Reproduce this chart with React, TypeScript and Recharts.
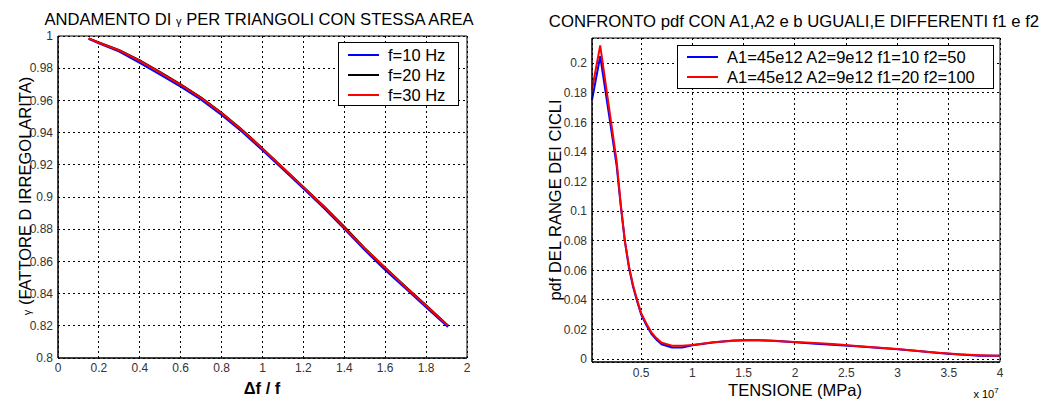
import { LineChart, Line, XAxis, YAxis, CartesianGrid, ReferenceArea, Legend } from "recharts"

const FONT = "'Liberation Sans', Arial, Helvetica, sans-serif"

// left chart: gamma vs delta f / f
const RATIO = [0.15, 0.2, 0.3, 0.4, 0.5, 0.6, 0.7, 0.8, 0.9, 1.0, 1.1, 1.2, 1.3, 1.4, 1.5, 1.6, 1.7, 1.8, 1.907]
const GAMMA_10 = [0.9983, 0.9955, 0.9903, 0.9833, 0.976, 0.9685, 0.9604, 0.951, 0.9405, 0.929, 0.9172, 0.9052, 0.8932, 0.8803, 0.867, 0.8547, 0.8432, 0.8315, 0.8192]
const GAMMA_20 = [0.9985, 0.996, 0.9912, 0.9848, 0.9775, 0.97, 0.9618, 0.9523, 0.9418, 0.9302, 0.9182, 0.9062, 0.8942, 0.8815, 0.8682, 0.856, 0.8442, 0.8327, 0.8202]
const GAMMA_30 = [0.9985, 0.9958, 0.991, 0.9845, 0.9772, 0.9697, 0.9615, 0.952, 0.9415, 0.93, 0.918, 0.906, 0.894, 0.881, 0.868, 0.856, 0.844, 0.8325, 0.82]
const RATIO_TICKS = [0, 0.2, 0.4, 0.6, 0.8, 1, 1.2, 1.4, 1.6, 1.8, 2]
const GAMMA_TICKS = [0.8, 0.82, 0.84, 0.86, 0.88, 0.9, 0.92, 0.94, 0.96, 0.98, 1]

// right chart: pdf of cycle ranges (x in 1e7 MPa)
const TENSION = [0.02, 0.1, 0.18, 0.26, 0.3, 0.34, 0.38, 0.42, 0.46, 0.5, 0.55, 0.6, 0.65, 0.7, 0.8, 0.9, 1.0, 1.2, 1.4, 1.6, 1.8, 2.0, 2.2, 2.4, 2.6, 2.8, 3.0, 3.2, 3.4, 3.6, 3.8, 4.0]
const PDF_A = [0.175, 0.2047, 0.168, 0.131, 0.104, 0.08, 0.062, 0.049, 0.039, 0.030, 0.023, 0.017, 0.013, 0.010, 0.0078, 0.0078, 0.0093, 0.0112, 0.0125, 0.0129, 0.0123, 0.0114, 0.0104, 0.0095, 0.0086, 0.0076, 0.0066, 0.0054, 0.0041, 0.0031, 0.0023, 0.0022]
const PDF_B = [0.182, 0.212, 0.173, 0.134, 0.105, 0.08, 0.063, 0.05, 0.04, 0.031, 0.024, 0.018, 0.014, 0.011, 0.009, 0.009, 0.0095, 0.0113, 0.0123, 0.0128, 0.0122, 0.0116, 0.0108, 0.01, 0.0088, 0.0078, 0.0068, 0.0054, 0.0042, 0.0032, 0.0026, 0.0022]
const TENSION_TICKS = [0.5, 1, 1.5, 2, 2.5, 3, 3.5, 4]
const PDF_TICKS = [0, 0.02, 0.04, 0.06, 0.08, 0.1, 0.12, 0.14, 0.16, 0.18, 0.2]

const gammaData = RATIO.map((x, i) => ({ x, f10: GAMMA_10[i], f20: GAMMA_20[i], f30: GAMMA_30[i] }))
const pdfData = TENSION.map((x, i) => ({ x, a: PDF_A[i], b: PDF_B[i] }))

const tickStyle = { fontSize: 12, fill: "#333", fontFamily: FONT }

function BoxLegend({ items, rowH, top }: { items: { label: string; color: string }[]; rowH: number; top: number }) {
  return (
    <div style={{ position: "relative", width: "100%", height: "100%", fontFamily: FONT, fontSize: 16.5, color: "#000" }}>
      {items.map((it, i) => (
        <div key={it.label} style={{ position: "absolute", left: 9, top: top + i * rowH, height: rowH, display: "flex", alignItems: "center", whiteSpace: "nowrap" }}>
          <span style={{ display: "inline-block", width: 31, height: 2, background: it.color, marginRight: 9 }} />
          {it.label}
        </div>
      ))}
    </div>
  )
}

function Abs({ x, y, rotate, size = 16.5, bold, children }: { x: number; y: number; rotate?: boolean; size?: number; bold?: boolean; children: any }) {
  return (
    <div
      style={{
        position: "absolute",
        left: x - 300,
        top: y - 20,
        width: 600,
        height: 40,
        display: "flex",
        alignItems: "center",
        justifyContent: "center",
        transform: rotate ? "rotate(-90deg)" : undefined,
        whiteSpace: "nowrap",
        fontFamily: FONT,
        fontSize: size,
        fontWeight: bold ? "bold" : "normal",
        color: "#000",
        lineHeight: 1,
        pointerEvents: "none",
      }}
    >
      <span>{children}</span>
    </div>
  )
}

export default function App() {
  return (
    <div style={{ position: "fixed", left: 0, top: 0, width: 1045, height: 401, background: "#fff", overflow: "hidden" }}>
      <div style={{ position: "absolute", left: 0, top: 0, width: 480, height: 401 }}>
        <LineChart width={480} height={401} data={gammaData} margin={{ top: 36, right: 13, bottom: 13, left: 8 }}>
          <CartesianGrid stroke="#000" strokeDasharray="2 3" shapeRendering="crispEdges" />
          <XAxis
            type="number"
            dataKey="x"
            domain={[0, 2]}
            ticks={RATIO_TICKS}
            height={30}
            tick={tickStyle}
            tickLine={false}
            tickSize={0}
            tickMargin={5}
            axisLine={{ stroke: "#000" }}
          />
          <YAxis
            type="number"
            domain={[0.8, 1]}
            ticks={GAMMA_TICKS}
            width={50}
            tick={tickStyle}
            tickLine={false}
            tickSize={0}
            tickMargin={5}
            axisLine={{ stroke: "#000" }}
          />
          <ReferenceArea x1={0} x2={2} y1={0.8} y2={1} fill="none" stroke="#000" strokeWidth={1} />
          <Line type="linear" dataKey="f10" stroke="#0000ff" strokeWidth={2} dot={false} isAnimationActive={false} />
          <Line type="linear" dataKey="f20" stroke="#000000" strokeWidth={2} dot={false} isAnimationActive={false} />
          <Line type="linear" dataKey="f30" stroke="#ff0000" strokeWidth={2} dot={false} isAnimationActive={false} />
          <Legend
            layout="horizontal"
            verticalAlign="middle"
            align="center"
            wrapperStyle={{ left: 338, top: 42, width: 121, height: 64, border: "1px solid #000", background: "#fff", boxSizing: "border-box" }}
            content={() => (
              <BoxLegend
                top={2}
                rowH={20}
                items={[
                  { label: "f=10 Hz", color: "#0000ff" },
                  { label: "f=20 Hz", color: "#000000" },
                  { label: "f=30 Hz", color: "#ff0000" },
                ]}
              />
            )}
          />
        </LineChart>
        <Abs x={259} y={20} size={16.6}>
          ANDAMENTO DI <span style={{ fontSize: 11 }}>γ</span> PER TRIANGOLI CON STESSA AREA
        </Abs>
        <Abs x={25} y={196} rotate>
          <span style={{ fontSize: 11 }}>γ</span> (FATTORE D IRREGOLARITA)
        </Abs>
        <Abs x={262} y={388} bold>Δf / f</Abs>
      </div>

      <div style={{ position: "absolute", left: 520, top: 0, width: 525, height: 401 }}>
        <LineChart width={525} height={401} data={pdfData} margin={{ top: 38, right: 45, bottom: 9, left: 22 }}>
          <CartesianGrid stroke="#000" strokeDasharray="2 3" shapeRendering="crispEdges" />
          <XAxis
            type="number"
            dataKey="x"
            domain={[0.02, 4]}
            ticks={TENSION_TICKS}
            height={30}
            tick={tickStyle}
            tickLine={false}
            tickSize={0}
            tickMargin={6}
            axisLine={{ stroke: "#000" }}
          />
          <YAxis
            type="number"
            domain={[-0.002, 0.217]}
            ticks={PDF_TICKS}
            width={50}
            tick={tickStyle}
            tickLine={false}
            tickSize={0}
            tickMargin={5}
            axisLine={{ stroke: "#000" }}
          />
          <ReferenceArea x1={0.02} x2={4} y1={-0.002} y2={0.217} fill="none" stroke="#000" strokeWidth={1} />
          <Line type="linear" dataKey="a" stroke="#0000ff" strokeWidth={2} dot={false} isAnimationActive={false} />
          <Line type="linear" dataKey="b" stroke="#ff0000" strokeWidth={2} dot={false} isAnimationActive={false} />
          <Legend
            layout="horizontal"
            verticalAlign="middle"
            align="center"
            wrapperStyle={{ left: 157, top: 45, width: 317, height: 44, border: "1px solid #000", background: "#fff", boxSizing: "border-box" }}
            content={() => (
              <BoxLegend
                top={1}
                rowH={20}
                items={[
                  { label: "A1=45e12 A2=9e12 f1=10 f2=50", color: "#0000ff" },
                  { label: "A1=45e12 A2=9e12 f1=20 f2=100", color: "#ff0000" },
                ]}
              />
            )}
          />
        </LineChart>
        <Abs x={274} y={22} size={16.7}>CONFRONTO pdf CON A1,A2 e b UGUALI,E DIFFERENTI f1 e f2</Abs>
        <Abs x={35} y={200} rotate>pdf DEL RANGE DEI CICLI</Abs>
        <Abs x={275} y={390}>TENSIONE (MPa)</Abs>
        <Abs x={466} y={393} size={11}>
          x 10<sup style={{ fontSize: 8, verticalAlign: "5px" }}>7</sup>
        </Abs>
      </div>
    </div>
  )
}
